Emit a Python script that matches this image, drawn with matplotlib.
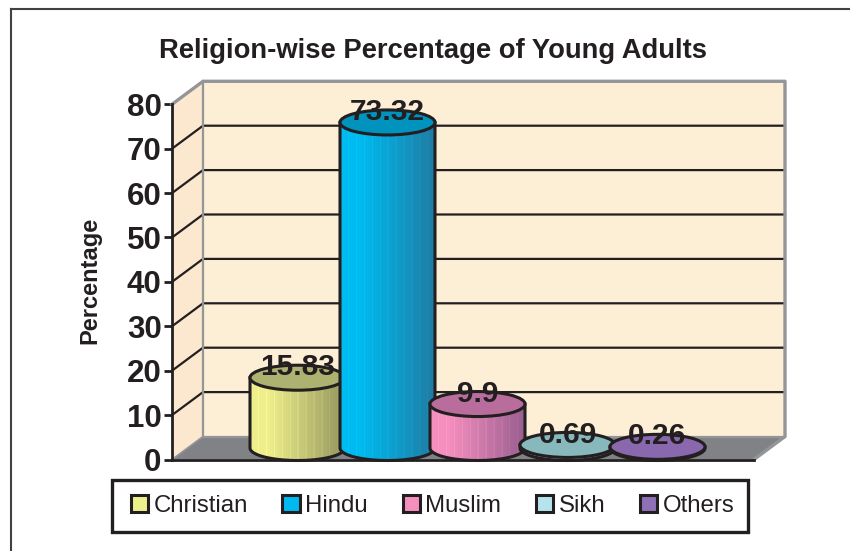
import matplotlib
matplotlib.use("Agg")
import matplotlib.pyplot as plt
import numpy as np
from matplotlib.lines import Line2D
from matplotlib.patches import Ellipse, Patch, Polygon, Rectangle

W, H = 850, 551
INK = "#231f20"
EDGE = "#939598"
FLOOR = "#808285"
WALL = "#fdeed6"
SIDE = "#fbe8cf"

categories = ["Christian", "Hindu", "Muslim", "Sikh", "Others"]
values = [15.83, 73.32, 9.9, 0.69, 0.26]
yticks = [0, 10, 20, 30, 40, 50, 60, 70, 80]

# (light side, dark side, top ellipse, legend swatch)
light = ["#eeee8c", "#00bbf0", "#f48fbe", "#b5e3ec", "#9373ba"]
dark = ["#94965e", "#1f7ca3", "#9a5f90", "#6f9ca0", "#7a5a9c"]
tops = ["#aeb270", "#0093bd", "#b96d9d", "#86b8bc", "#8a68ae"]
swatch = ["#eef08c", "#00b9f0", "#f48fbe", "#b5e3ec", "#8f6fb5"]

# pixel layout of the front plane, from the reference
PX_LEFT, PX_RIGHT = 172, 754
PX_ZERO, PX_PER_UNIT = 459.5, 4.44
PX_FIRST, PX_STEP, PX_BAR = 297.5, 90.0, 95
DEPTH_X, DEPTH_Y = 31, 23
BASE_PX = 11.5      # bottom ellipse centre above the front floor edge
RY_PX = 12.5        # semi-minor axis of the cylinder ends

fig = plt.figure(figsize=(W / 100, H / 100), dpi=100, facecolor="white")
plt.rcParams["font.family"] = ["Liberation Sans", "DejaVu Sans"]
top_px = PX_ZERO - 80 * PX_PER_UNIT
ax = fig.add_axes([PX_LEFT / W, 1 - PX_ZERO / H, (PX_RIGHT - PX_LEFT) / W,
                   (PX_ZERO - top_px) / H])
ax.set_facecolor("none")

xlim = ((PX_LEFT - PX_FIRST) / PX_STEP, (PX_RIGHT - PX_FIRST) / PX_STEP)
dx = DEPTH_X / PX_STEP
dy = DEPTH_Y / PX_PER_UNIT
base = BASE_PX / PX_PER_UNIT
ry = RY_PX / PX_PER_UNIT
bw = PX_BAR / PX_STEP

# walls and floor of the 3D box
x0, x1 = xlim
ax.add_patch(Polygon([(x0, 0), (x0, 80), (x0 + dx, 80 + dy), (x0 + dx, dy)],
                     fc=SIDE, ec="none", clip_on=False, zorder=1))
ax.add_patch(Polygon([(x0 + dx, dy), (x0 + dx, 80 + dy), (x1 + dx, 80 + dy), (x1 + dx, dy)],
                     fc=WALL, ec="none", clip_on=False, zorder=1))
ax.add_patch(Polygon([(x0, 0), (x0 + dx, dy), (x1 + dx, dy), (x1, 0)],
                     fc=FLOOR, ec="none", clip_on=False, zorder=1))
for t in yticks[1:-1]:
    ax.plot([x0, x0 + dx, x1 + dx], [t, t + dy, t + dy], color=INK, lw=1.6,
            clip_on=False, zorder=2, solid_joinstyle="miter")
ax.plot([x0, x0 + dx, x1 + dx, x1 + dx, x1], [80, 80 + dy, 80 + dy, dy, 0],
        color=EDGE, lw=2.4, clip_on=False, zorder=3)
ax.plot([x0 + dx, x0 + dx, x1 + dx], [80 + dy, dy, dy], color=EDGE, lw=1.6,
        clip_on=False, zorder=3)
ax.plot([x0, x0 + dx], [0, dy], color=EDGE, lw=1.2, clip_on=False, zorder=3)

# cylinders
theta = np.linspace(np.pi, 2 * np.pi, 80)
for i, (v, lo, hi, tp) in enumerate(zip(values, light, dark, tops)):
    z = 5 + i
    cx = float(i)
    top = base + v
    arc_x = cx + bw / 2 * np.cos(theta)
    arc_y = base + ry * np.sin(theta)
    body = Polygon(np.r_[[[cx - bw / 2, top]], np.c_[arc_x, arc_y], [[cx + bw / 2, top]]],
                   fc="none", ec="none", zorder=z, clip_on=False)
    ax.add_patch(body)
    # left-to-right shading with the thin vertical bands of the original
    n = 72
    ramp = np.clip(np.linspace(-0.25, 1, n), 0, 1)[:, None]
    rgb = (1 - ramp) * np.array(matplotlib.colors.to_rgb(lo)) + ramp * np.array(matplotlib.colors.to_rgb(hi))
    rgb[::6] = np.clip(rgb[::6] * 1.05, 0, 1)
    im = ax.imshow(rgb[None, :, :], extent=(cx - bw / 2, cx + bw / 2, base - ry, top),
                   aspect="auto", zorder=z, interpolation="nearest")
    im.set_clip_path(body)
    ax.plot(np.r_[cx - bw / 2, arc_x, cx + bw / 2], np.r_[top, arc_y, top], color=INK,
            lw=2.2, zorder=z + 0.1, clip_on=False)
    ax.add_patch(Ellipse((cx, top), bw, 2 * ry, fc=tp, ec=INK, lw=2.2, zorder=z + 0.2,
                         clip_on=False))

for i, v in enumerate(values):
    ax.annotate(f"{v:g}", (i, base + v), textcoords="offset points", xytext=(0, 7.5),
                ha="center", va="center", fontsize=21.5, fontweight="bold", color=INK,
                zorder=20, annotation_clip=False)

ax.set_xlim(xlim)
ax.set_ylim(0, 80)
ax.set_xticks([])
ax.set_yticks(yticks)
ax.set_yticklabels([str(t) for t in yticks], fontsize=22.5, fontweight="bold", color=INK,
                   va="center_baseline")
ax.tick_params(axis="y", length=5.5, width=2, color=INK, pad=2)
for side in ("top", "right"):
    ax.spines[side].set_visible(False)
ax.spines["left"].set_color(INK)
ax.spines["left"].set_linewidth(2)
ax.spines["left"].set_zorder(4)
ax.spines["bottom"].set_color(INK)
ax.spines["bottom"].set_linewidth(2)
ax.spines["bottom"].set_zorder(4)

fig.text(433 / W, 1 - 51 / H, "Religion-wise Percentage of Young Adults", ha="center",
         va="center", fontsize=19.7, fontweight="bold", color=INK)
fig.text(90 / W, 1 - 280 / H, "Percentage", rotation=90, ha="center", va="center",
         fontsize=17, fontweight="bold", color=INK)

# legend box is drawn by hand: the original is tighter in height than in width
fig.add_artist(Rectangle((112 / W, 1 - 532 / H), 636 / W, 52 / H, fc="white", ec=INK,
                         lw=2.4, transform=fig.transFigure))
handles = [Patch(fc=c, ec=INK, lw=2.2, label=n) for c, n in zip(swatch, categories)]
leg = fig.legend(handles=handles, loc="center", bbox_to_anchor=(432.5 / W, 1 - 506 / H),
                 ncol=5, frameon=False, fontsize=17.3, handlelength=0.72, handleheight=0.72,
                 handletextpad=0.22, columnspacing=1.45, labelcolor=INK)

# crop-style frame: only top and left lines are in the picture
fig.add_artist(Line2D([10.5 / W, 1], [1 - 9 / H, 1 - 9 / H], color="#414042", lw=1.5))
fig.add_artist(Line2D([10.5 / W, 10.5 / W], [1 - 9 / H, 0], color="#414042", lw=1.5))

fig.savefig("out.png", dpi=100)
